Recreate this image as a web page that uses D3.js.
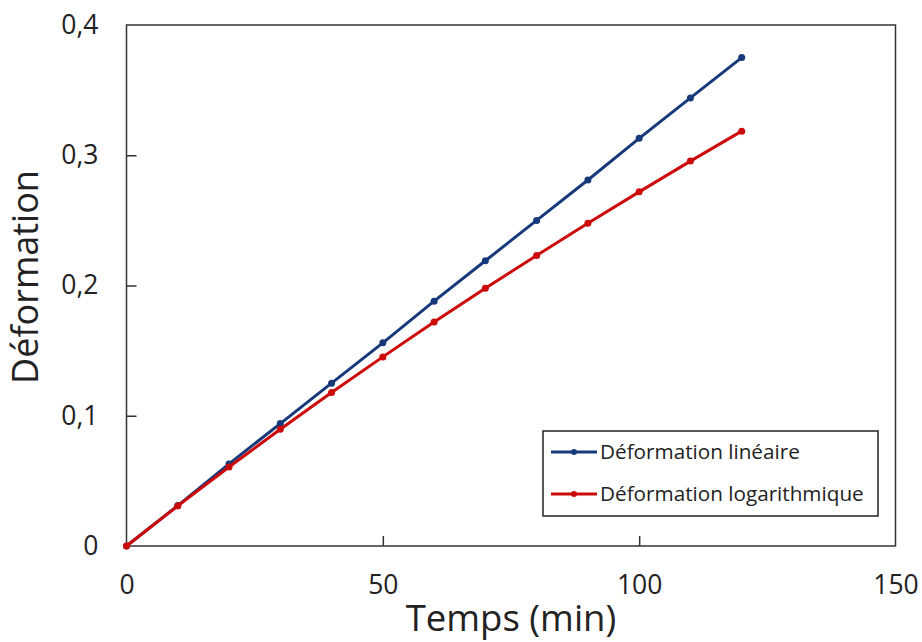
<!DOCTYPE html>
<html><head><meta charset="utf-8">
<script src="https://cdn.jsdelivr.net/npm/d3@7"></script>
<style>body{margin:0;background:#fff}svg{display:block}text{font-family:"Open Sans",sans-serif;fill:#222}</style>
</head><body><svg id="c" width="922" height="642"></svg>
<script>
const temps = [0,10,20,30,40,50,60,70,80,90,100,110,120];
const defLineaire = [0,0.031,0.063,0.094,0.125,0.156,0.188,0.219,0.25,0.281,0.313,0.344,0.375];
const defLog = [0,0.0308,0.0606,0.0896,0.1178,0.1452,0.1719,0.1978,0.2231,0.2478,0.2719,0.2955,0.3185];
const xTicks = [0,50,100,150];
const yTicks = [0,0.1,0.2,0.3,0.4];
const seriesNames = ["Déformation linéaire","Déformation logarithmique"];
const colors = ["#17397a","#cc0a0a"];

const svg = d3.select("#c");
const L=126.5,R=895.5,T=25,B=546;
const x = d3.scaleLinear().domain([0,150]).range([L,R]);
const y = d3.scaleLinear().domain([0,0.4]).range([B,T]);
const fmt = d => String(d).replace(".",",");

// frame
svg.append("rect").attr("x",L).attr("y",T).attr("width",R-L).attr("height",B-T)
  .attr("fill","none").attr("stroke","#333").attr("stroke-width",1.5);

// axes
const xa = svg.append("g").attr("transform",`translate(0,${B})`)
  .call(d3.axisBottom(x).tickValues(xTicks).tickSizeInner(-10).tickSizeOuter(0).tickPadding(39).tickFormat(fmt));
const ya = svg.append("g").attr("transform",`translate(${L},0)`)
  .call(d3.axisLeft(y).tickValues(yTicks).tickSizeInner(-10).tickSizeOuter(0).tickPadding(39).tickFormat(fmt));
[xa,ya].forEach(g=>{
  g.select(".domain").remove();
  g.selectAll(".tick line").attr("stroke","#333").attr("stroke-width",1.5);
  g.selectAll(".tick text").attr("font-size",26.5).attr("fill","#222").style("font-family","'Open Sans',sans-serif");
});
xa.selectAll(".tick line").filter(d=>d===0||d===150).remove();
ya.selectAll(".tick line").filter(d=>d===0||d===0.4).remove();
ya.selectAll(".tick text").attr("x",-28);
xa.selectAll(".tick text").attr("y",29);

// titles
svg.append("text").attr("x",511).attr("y",631).attr("text-anchor","middle")
  .attr("font-size",36.5).text("Temps (min)");
svg.append("text").attr("transform","translate(38,277) rotate(-90)").attr("text-anchor","middle")
  .attr("font-size",36).text("Déformation");

// series
const series = [defLineaire, defLog];
const line = d3.line().x((d,i)=>x(temps[i])).y(d=>y(d));
series.forEach((s,k)=>{
  svg.append("path").datum(s).attr("d",line).attr("fill","none")
    .attr("stroke",colors[k]).attr("stroke-width",3);
  svg.append("g").selectAll("circle").data(s).join("circle")
    .attr("cx",(d,i)=>x(temps[i])).attr("cy",d=>y(d)).attr("r",3.5).attr("fill",colors[k]);
});

// legend
const lg = svg.append("g");
lg.append("rect").attr("x",543).attr("y",431).attr("width",335).attr("height",85)
  .attr("fill","#fff").attr("stroke","#222").attr("stroke-width",1.5);
[452,494].forEach((yy,k)=>{
  lg.append("line").attr("x1",551).attr("x2",597).attr("y1",yy).attr("y2",yy)
    .attr("stroke",colors[k]).attr("stroke-width",3);
  lg.append("circle").attr("cx",574).attr("cy",yy).attr("r",3).attr("fill",colors[k]);
  lg.append("text").attr("x",600).attr("y",yy).attr("dy","0.35em").attr("font-size",20.7).text(seriesNames[k]);
});
</script></body></html>
